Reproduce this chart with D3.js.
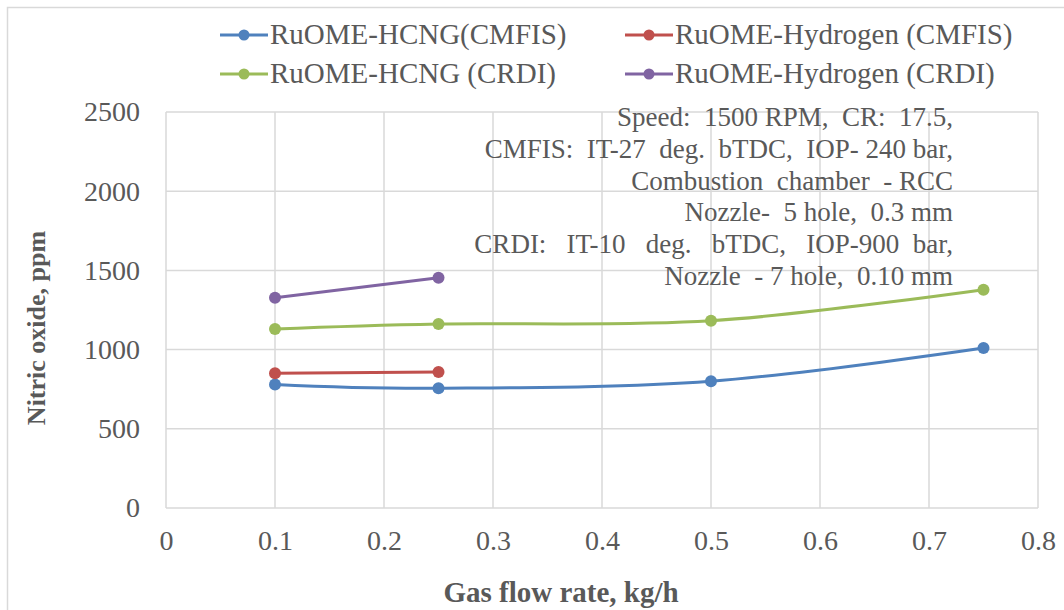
<!DOCTYPE html>
<html>
<head>
<meta charset="utf-8">
<script src="https://cdn.jsdelivr.net/npm/d3@7"></script>
<style>
  body { margin: 0; background: #fff; }
  svg text { font-family: 'Liberation Serif', 'Times New Roman', serif; fill: #595959; }
</style>
</head>
<body>
<script>
const width = 1064
const height = 610

// gas flow rate, kg/h
const flowHCNG = [0.1, 0.25, 0.5, 0.75]
const flowH2 = [0.1, 0.25]

// nitric oxide, ppm
const hcngCMFIS = [780, 756, 800, 1010]
const h2CMFIS = [850, 858]
const hcngCRDI = [1130, 1162, 1182, 1378]
const h2CRDI = [1327, 1453]

const xTicks = [0, 0.1, 0.2, 0.3, 0.4, 0.5, 0.6, 0.7, 0.8]
const yTicks = [0, 500, 1000, 1500, 2000, 2500]

const notes = [
  'Speed:  1500 RPM,  CR:  17.5,',
  'CMFIS:  IT-27  deg.  bTDC,  IOP- 240 bar,',
  'Combustion  chamber  - RCC',
  'Nozzle-  5 hole,  0.3 mm',
  'CRDI:   IT-10   deg.   bTDC,   IOP-900  bar,',
  'Nozzle  - 7 hole,  0.10 mm'
]

const series = [
  { name: 'RuOME-HCNG(CMFIS)', x: flowHCNG, y: hcngCMFIS, color: '#4f81bd' },
  { name: 'RuOME-Hydrogen (CMFIS)', x: flowH2, y: h2CMFIS, color: '#c0504d' },
  { name: 'RuOME-HCNG (CRDI)', x: flowHCNG, y: hcngCRDI, color: '#9bbb59' },
  { name: 'RuOME-Hydrogen (CRDI)', x: flowH2, y: h2CRDI, color: '#8064a2' }
]

const plot = { left: 166, right: 1038, top: 112, bottom: 508 }

const svg = d3.select('body').append('svg')
  .attr('width', width)
  .attr('height', height)

// outer chart border
svg.append('rect')
  .attr('x', 7.5).attr('y', 7.5)
  .attr('width', width).attr('height', height)
  .attr('fill', 'none')
  .attr('stroke', '#d9d9d9')
  .attr('stroke-width', 1.5)

const x = d3.scaleLinear().domain([0, 0.8]).range([plot.left, plot.right])
const y = d3.scaleLinear().domain([0, 2500]).range([plot.bottom, plot.top])

// grid
const grid = svg.append('g').attr('stroke', '#d9d9d9').attr('stroke-width', 1.5)
grid.selectAll('.gx').data(xTicks).enter().append('line')
  .attr('x1', d => x(d)).attr('x2', d => x(d))
  .attr('y1', plot.top).attr('y2', plot.bottom)
grid.selectAll('.gy').data(yTicks).enter().append('line')
  .attr('x1', plot.left).attr('x2', plot.right)
  .attr('y1', d => y(d)).attr('y2', d => y(d))

// axes (labels only, Excel style)
const xAxis = svg.append('g')
  .attr('transform', `translate(0,${plot.bottom})`)
  .call(d3.axisBottom(x).tickValues(xTicks).tickSize(0).tickPadding(22).tickFormat(d3.format('')))
xAxis.select('.domain').remove()
xAxis.selectAll('text').attr('font-size', 28).attr('fill', '#595959')
  .style('font-family', "'Liberation Serif', serif")

const yAxis = svg.append('g')
  .attr('transform', `translate(${plot.left},0)`)
  .call(d3.axisLeft(y).tickValues(yTicks).tickSize(0).tickPadding(26).tickFormat(d3.format('d')))
yAxis.select('.domain').remove()
yAxis.selectAll('text').attr('font-size', 28).attr('fill', '#595959')
  .style('font-family', "'Liberation Serif', serif")

// lines
const line = d3.line()
  .x(d => x(d[0]))
  .y(d => y(d[1]))
  .curve(d3.curveCatmullRom.alpha(0))

series.forEach(s => {
  const pts = s.x.map((v, i) => [v, s.y[i]])
  svg.append('path')
    .datum(pts)
    .attr('d', line)
    .attr('fill', 'none')
    .attr('stroke', s.color)
    .attr('stroke-width', 3)
  svg.append('g').selectAll('circle').data(pts).enter().append('circle')
    .attr('cx', d => x(d[0]))
    .attr('cy', d => y(d[1]))
    .attr('r', 6)
    .attr('fill', s.color)
})

// annotation
svg.append('g').selectAll('text').data(notes).enter().append('text')
  .attr('x', 953)
  .attr('y', (d, i) => 126 + i * 31.8)
  .attr('text-anchor', 'end')
  .attr('font-size', 27)
  .style('white-space', 'pre')
  .text(d => d)

// legend
const legend = svg.append('g')
series.forEach((s, i) => {
  const lx = i % 2 === 0 ? 220 : 625
  const ly = i < 2 ? 35 : 74
  legend.append('line')
    .attr('x1', lx).attr('x2', lx + 48)
    .attr('y1', ly).attr('y2', ly)
    .attr('stroke', s.color).attr('stroke-width', 3)
  legend.append('circle')
    .attr('cx', lx + 24).attr('cy', ly).attr('r', 5.5)
    .attr('fill', s.color)
  legend.append('text')
    .attr('x', lx + 50).attr('y', ly + 9)
    .attr('font-size', 29)
    .text(s.name)
})

// axis titles
svg.append('text')
  .attr('x', 561)
  .attr('y', 602)
  .attr('text-anchor', 'middle')
  .attr('font-size', 29)
  .attr('font-weight', 'bold')
  .text('Gas flow rate, kg/h')

svg.append('text')
  .attr('transform', `translate(45,${(plot.top + plot.bottom) / 2 + 18}) rotate(-90)`)
  .attr('text-anchor', 'middle')
  .attr('font-size', 26)
  .attr('font-weight', 'bold')
  .text('Nitric oxide, ppm')
</script>
</body>
</html>
